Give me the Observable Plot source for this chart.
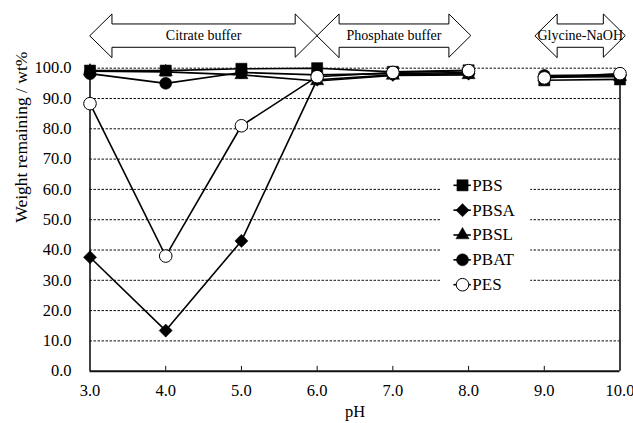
<!DOCTYPE html>
<html>
<head>
<meta charset="utf-8">
<script src="https://cdn.jsdelivr.net/npm/d3@7"></script>
<script src="https://cdn.jsdelivr.net/npm/@observablehq/plot@0.6"></script>
<style>
  html, body { margin: 0; padding: 0; background: #fff; }
  svg, svg text { font-family: "Liberation Serif", "Times New Roman", serif !important; font-variant: normal !important; }
</style>
</head>
<body>
<div id="chart"></div>
<script>
// ---- data ----
const pH = [3, 4, 5, 6, 7, 8, 9, 10];
const seriesNames = ["PBS", "PBSA", "PBSL", "PBAT", "PES"];
const PBS  = [99.2, 99.2, 99.8, 100.0, 98.8, 99.3, 96.0, 96.3];
const PBSA = [37.6, 13.4, 43.0, 96.2, 97.8, 98.2, 97.2, 97.5];
const PBSL = [99.0, 98.8, 97.8, 95.8, 97.6, 97.8, 97.0, 97.2];
const PBAT = [98.2, 95.0, 98.6, 97.8, 98.2, 98.6, 97.6, 97.8];
const PES  = [88.3, 38.0, 81.0, 97.2, 98.6, 99.2, 96.8, 98.2];
// connected runs of points (no line between pH 8 and 9)
const runStarts = [3, 9];
const runEnds = [8, 10];
// buffer annotations (pH spans of the arrows)
const buffers = ["Citrate buffer", "Phosphate buffer", "Glycine-NaOH"];
const bufferFrom = [3.0, 6.0, 8.88];
const bufferTo = [6.0, 8.03, 10.07];
const xTicks = [3, 4, 5, 6, 7, 8, 9, 10];
const yTicks = [0, 10, 20, 30, 40, 50, 60, 70, 80, 90, 100];
const xLabel = "pH";
const yLabel = "Weight remaining / wt%";

// ---- build table ----
const valuesBySeries = {PBS, PBSA, PBSL, PBAT, PES};
const rows = [];
seriesNames.forEach(name => {
  valuesBySeries[name].forEach((v, i) => {
    const x = pH[i];
    const run = runStarts.findIndex((s, k) => x >= s && x <= runEnds[k]);
    rows.push({series: name, pH: x, value: v, run: name + "-" + run});
  });
});

// ---- styles ----
const FONT = "'Liberation Serif', 'Times New Roman', serif";
const markerStyle = {
  PBS:  {symbol: "square",   r: 6.3, fill: "black", stroke: "black", strokeWidth: 0.5},
  PBSA: {symbol: "diamond2", r: 5.9, fill: "black", stroke: "black", strokeWidth: 0.5},
  PBSL: {symbol: "triangle", r: 4.9, fill: "black", stroke: "black", strokeWidth: 0.5},
  PBAT: {symbol: "circle",   r: 6.0, fill: "black", stroke: "black", strokeWidth: 0.5},
  PES:  {symbol: "circle",   r: 6.3, fill: "white", stroke: "black", strokeWidth: 1}
};

// arrow geometry (in data units, above the plot frame)
const yTip = 110.77, yHeadTop = 117.9, yShaftTop = 114.6, yShaftBot = 106.9, yHeadBot = 103.6;
const head = 0.29;
const arrowPts = [];
buffers.forEach((b, i) => {
  const x0 = bufferFrom[i], x1 = bufferTo[i];
  [[x0, yTip], [x0 + head, yHeadTop], [x0 + head, yShaftTop], [x1 - head, yShaftTop],
   [x1 - head, yHeadTop], [x1, yTip], [x1 - head, yHeadBot], [x1 - head, yShaftBot],
   [x0 + head, yShaftBot], [x0 + head, yHeadBot]].forEach(([x, y]) => arrowPts.push({b, x, y}));
});
const arrowLabels = buffers.map((b, i) => ({b, x: (bufferFrom[i] + bufferTo[i]) / 2, y: yTip}));

// legend layout (data units)
const legTop = 61.35, legStep = 8.2;
const legLineX1 = 7.80, legLineX2 = 8.03, legMarkX = 7.92, legTextX = 8.05;
const legend = seriesNames.map((s, i) => ({series: s, y: legTop - i * legStep}));

const fmt = d3.format(".1f");
const marks = [
  // gridlines
  Plot.ruleY(yTicks.filter(d => d > 0), {stroke: "#111", strokeWidth: 1, strokeDasharray: "2.5,1.5"}),
  // legend background
  Plot.rect([0], {x1: 7.63, x2: 8.82, y1: 23.5, y2: 66, fill: "white"}),
  // frame: left, right, bottom
  Plot.ruleX([3, 10], {y1: 0, y2: 100, stroke: "#111", strokeWidth: 1.6}),
  Plot.ruleY([0], {stroke: "#111", strokeWidth: 2}),
  // inward x ticks
  Plot.ruleX(xTicks.slice(1, -1), {y1: 0, y2: 1.6, stroke: "#111", strokeWidth: 1}),
  // axes
  Plot.axisX({ticks: xTicks, tickFormat: fmt, tickSize: 0, tickPadding: 13, label: xLabel,
    labelAnchor: "center", labelArrow: "none", labelOffset: 46, fontSize: 16.5, fontFamily: FONT, fill: "black"}),
  Plot.axisY({ticks: yTicks, tickFormat: fmt, tickSize: 0, tickPadding: 18.5, label: null,
    fontSize: 16.5, fontFamily: FONT, fill: "black"}),
  Plot.text([yLabel], {text: d => d, frameAnchor: "left", rotate: -90, dx: -69, dy: 3,
    fontSize: 17.5, fontFamily: FONT, fill: "black"}),
  // buffer arrows
  Plot.line(arrowPts, {x: "x", y: "y", z: "b", curve: "linear-closed", stroke: "black", strokeWidth: 1, fill: "none"}),
  Plot.text(arrowLabels, {x: "x", y: "y", text: "b", fontSize: 14, fontFamily: FONT, fill: "black"}),
  // data lines
  Plot.line(rows, {x: "pH", y: "value", z: "run", stroke: "black", strokeWidth: 1.6})
];
seriesNames.forEach(s => {
  marks.push(Plot.dot(rows.filter(d => d.series === s), {x: "pH", y: "value", ...markerStyle[s]}));
});
// legend
marks.push(Plot.link(legend, {x1: legLineX1, x2: legLineX2, y1: "y", y2: "y", stroke: "black", strokeWidth: 1.6}));
seriesNames.forEach((s, i) => {
  marks.push(Plot.dot([legend[i]], {x: legMarkX, y: "y", ...markerStyle[s]}));
});
marks.push(Plot.text(legend, {x: legTextX, y: "y", text: "series", textAnchor: "start", fontSize: 17, fontFamily: FONT, fill: "black"}));

const chart = Plot.plot({
  width: 633,
  height: 423,
  marginLeft: 89.5,
  marginRight: 13.5,
  marginTop: 67.7,
  marginBottom: 52.3,
  style: {fontFamily: FONT, fontSize: "16px", background: "white", color: "black", overflow: "visible"},
  x: {domain: [3, 10]},
  y: {domain: [0, 100]},
  marks
});
document.getElementById("chart").appendChild(chart);
</script>
</body>
</html>
